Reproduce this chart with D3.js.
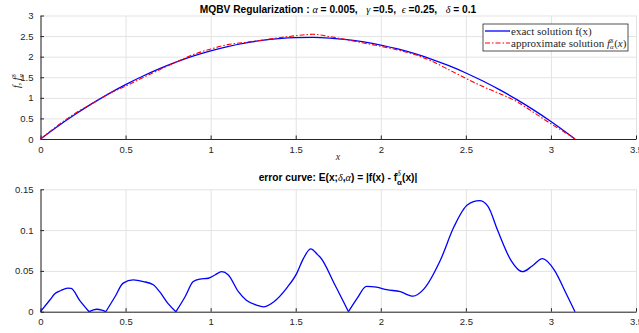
<!DOCTYPE html>
<html lang="en">
<head>
<meta charset="UTF-8">
<title>MQBV Regularization</title>
<script src="https://d3js.org/d3.v7.min.js"></script>
<style>
    body { margin: 0; background: #ffffff; font-family: "Liberation Sans", Arial, sans-serif; }
    .tick text { font-size: 9.5px; fill: #262626; font-family: "Liberation Sans", Arial, sans-serif; }
    .axis path, .axis line { stroke: #262626; }
    .grid line { stroke: #e3e3e3; }
    .grid path { stroke: none; }
    .title { font-size: 10.2px; font-weight: bold; fill: #000; white-space: pre; }
    .math { font-family: "Liberation Serif", "DejaVu Serif", serif; font-style: italic; font-weight: normal; }
    .legend text { font-family: "Liberation Serif", "DejaVu Serif", serif; font-size: 11px; fill: #262626; }
</style>
</head>
<body>
<svg width="639" height="333"></svg>
<script>
// top panel: exact and approximate solution
const xTop = [0, 0.1, 0.2, 0.3, 0.4, 0.5, 0.6, 0.7, 0.8, 0.9, 1.0, 1.1, 1.2, 1.3, 1.4, 1.5, 1.6,
              1.7, 1.8, 1.9, 2.0, 2.1, 2.2, 2.3, 2.4, 2.5, 2.6, 2.7, 2.8, 2.9, 3.0, 3.1, 3.1416];
const exactVals = [0, 0.304, 0.588, 0.852, 1.097, 1.321, 1.525, 1.709, 1.873, 2.017, 2.142, 2.246,
                   2.330, 2.394, 2.438, 2.462, 2.467, 2.451, 2.415, 2.359, 2.283, 2.187, 2.071,
                   1.936, 1.780, 1.604, 1.408, 1.192, 0.956, 0.701, 0.425, 0.129, 0];
const approxVals = [0, 0.324, 0.615, 0.853, 1.092, 1.285, 1.487, 1.684, 1.873, 2.054, 2.184, 2.292,
                    2.346, 2.400, 2.458, 2.509, 2.543, 2.487, 2.413, 2.330, 2.252, 2.162, 2.051,
                    1.891, 1.683, 1.474, 1.274, 1.099, 0.906, 0.641, 0.370, 0.114, 0];

// bottom panel: error curve |f - f_alpha^delta|
const xErr = [0, 0.055, 0.084, 0.12, 0.16, 0.18, 0.23, 0.286, 0.33, 0.36, 0.384, 0.437, 0.486,
              0.545, 0.604, 0.663, 0.70, 0.75, 0.796, 0.849, 0.898, 0.937, 0.986, 1.025, 1.065,
              1.104, 1.163, 1.21, 1.27, 1.31, 1.37, 1.447, 1.506, 1.545, 1.588, 1.633, 1.643,
              1.73, 1.81, 1.86, 1.916, 1.975, 2.035, 2.114, 2.19, 2.25, 2.35, 2.43, 2.51, 2.58,
              2.63, 2.686, 2.765, 2.833, 2.89, 2.95, 3.02, 3.09, 3.1416];
const errVals = [0, 0.0143, 0.022, 0.026, 0.0288, 0.0285, 0.014, 0, 0.003, 0.002, 0, 0.018, 0.035,
                 0.039, 0.037, 0.033, 0.0245, 0.010, 0, 0.018, 0.037, 0.040, 0.041, 0.045, 0.049,
                 0.045, 0.0245, 0.014, 0.008, 0.006, 0.012, 0.029, 0.047, 0.065, 0.077, 0.069, 0.067,
                 0.033, 0, 0.016, 0.031, 0.030, 0.027, 0.0245, 0.019, 0.027, 0.063, 0.104, 0.131,
                 0.136, 0.129, 0.10, 0.063, 0.049, 0.056, 0.065, 0.051, 0.022, 0];

const xTicks = [0, 0.5, 1, 1.5, 2, 2.5, 3, 3.5];
const yTopTicks = [0, 0.5, 1, 1.5, 2, 2.5, 3];
const yErrTicks = [0, 0.05, 0.1, 0.15];

const svg = d3.select("svg");
const left = 40.5, right = 636;

function panel(top, bottom, yDomain, yTicks) {
    const x = d3.scaleLinear().domain([0, 3.5]).range([left, right]);
    const y = d3.scaleLinear().domain(yDomain).range([bottom, top]);
    const g = svg.append("g");

    g.append("g").attr("class", "grid")
     .attr("transform", `translate(0,${bottom})`)
     .call(d3.axisBottom(x).tickValues(xTicks).tickSize(-(bottom - top)).tickFormat(""));
    g.append("g").attr("class", "grid")
     .attr("transform", `translate(${left},0)`)
     .call(d3.axisLeft(y).tickValues(yTicks).tickSize(-(right - left)).tickFormat(""));

    g.append("g").attr("class", "axis")
     .attr("transform", `translate(0,${bottom})`)
     .call(d3.axisBottom(x).tickValues(xTicks).tickSizeInner(-3.5).tickSizeOuter(0).tickPadding(7).tickFormat(d3.format("")));
    g.append("g").attr("class", "axis")
     .attr("transform", `translate(${left},0)`)
     .call(d3.axisLeft(y).tickValues(yTicks).tickSizeInner(-3.5).tickSizeOuter(0).tickPadding(7).tickFormat(d3.format("")));
    return {x, y, g};
}

// superscript delta stacked over subscript alpha
function supSub(txt, size, up, down, italic) {
    const sup = txt.append("tspan").attr("font-size", size).attr("dy", -up).text("δ");
    const sub = txt.append("tspan").attr("font-size", size).attr("dy", up + down).text("α");
    if (italic) { sup.attr("font-style", "italic"); sub.attr("font-style", "italic"); }
    sub.attr("dx", -sup.node().getComputedTextLength());
    const w = sub.node().getComputedTextLength() - sup.node().getComputedTextLength();
    return w < 0 ? -w : 0;
}

// top panel
const p1 = panel(15.5, 139, [0, 3], yTopTicks);
const line1 = d3.line().x((d, i) => p1.x(xTop[i])).y(d => p1.y(d)).curve(d3.curveMonotoneX);
p1.g.append("path").attr("d", line1(exactVals))
    .attr("fill", "none").attr("stroke", "#0000ff").attr("stroke-width", 1.3);
p1.g.append("path").attr("d", line1(approxVals))
    .attr("fill", "none").attr("stroke", "#ff0000").attr("stroke-width", 1.1)
    .attr("stroke-dasharray", "5,2,1.5,2");

// title top
const t1 = svg.append("text").attr("class", "title").attr("x", 338).attr("y", 13).attr("text-anchor", "middle");
t1.append("tspan").text("MQBV Regularization : ");
t1.append("tspan").attr("class", "math").text("α");
t1.append("tspan").text(" = 0.005,   ");
t1.append("tspan").attr("class", "math").text("γ");
t1.append("tspan").text(" =0.5,  ");
t1.append("tspan").attr("class", "math").text("ϵ");
t1.append("tspan").text(" =0.25,   ");
t1.append("tspan").attr("class", "math").text("δ");
t1.append("tspan").text(" = 0.1");

// axis labels
svg.append("text").attr("class", "math").attr("x", 338).attr("y", 160)
   .attr("text-anchor", "middle").attr("font-size", 10).attr("fill", "#262626").text("x");
const yl = svg.append("text").attr("class", "math").attr("transform", "translate(20,88) rotate(-90)")
   .attr("font-size", 10).attr("fill", "#262626");
yl.append("tspan").text("f, f");
supSub(yl, 7, 4, 2.5, true);

// legend
const lg = svg.append("g").attr("class", "legend");
lg.append("rect").attr("x", 483).attr("y", 24).attr("width", 145).attr("height", 27)
  .attr("fill", "#fff").attr("stroke", "#262626").attr("stroke-width", 0.8);
lg.append("line").attr("x1", 485).attr("x2", 510).attr("y1", 31).attr("y2", 31)
  .attr("stroke", "#0000ff").attr("stroke-width", 1.3);
lg.append("line").attr("x1", 485).attr("x2", 510).attr("y1", 43).attr("y2", 43)
  .attr("stroke", "#ff0000").attr("stroke-width", 1.1).attr("stroke-dasharray", "5,2,1.5,2");
lg.append("text").attr("x", 511).attr("y", 34.5).text("exact solution f(x)");
const lt = lg.append("text").attr("x", 511).attr("y", 46.5);
lt.append("tspan").text("approximate solution ");
lt.append("tspan").attr("font-style", "italic").text("f");
const extra = supSub(lt, 7, 4, 2.5, true);
lt.append("tspan").attr("dx", extra + 0.5).attr("dy", -2.5).text("(");
lt.append("tspan").attr("font-style", "italic").text("x");
lt.append("tspan").text(")");

// bottom panel
const p2 = panel(189.3, 311.7, [0, 0.15], yErrTicks);
const line2 = d3.line().x(d => p2.x(d[0])).y(d => p2.y(d[1])).curve(d3.curveMonotoneX);
// split at zero touches so the cusps stay sharp
const pts = xErr.map((xv, i) => [xv, errVals[i]]);
let seg = [pts[0]];
for (let i = 1; i < pts.length; i++) {
    seg.push(pts[i]);
    if (errVals[i] === 0 || i === pts.length - 1) {
        p2.g.append("path").attr("d", line2(seg))
            .attr("fill", "none").attr("stroke", "#0000ff").attr("stroke-width", 1.3);
        seg = [pts[i]];
    }
}

const t2 = svg.append("text").attr("class", "title").attr("x", 338).attr("y", 181).attr("text-anchor", "middle");
t2.append("tspan").text("error curve: E(x;");
t2.append("tspan").attr("class", "math").text("δ");
t2.append("tspan").text(",");
t2.append("tspan").attr("class", "math").text("α");
t2.append("tspan").text(") = |f(x) - f");
const sp = t2.append("tspan").attr("class", "math").attr("font-size", 8).attr("dy", -5).text("δ");
const sb = t2.append("tspan").attr("font-size", 8).attr("font-weight", "bold").attr("dy", 9).text("α");
sb.attr("dx", -sp.node().getComputedTextLength());
t2.append("tspan").attr("dy", -4).text("(x)|");
</script>
</body>
</html>
